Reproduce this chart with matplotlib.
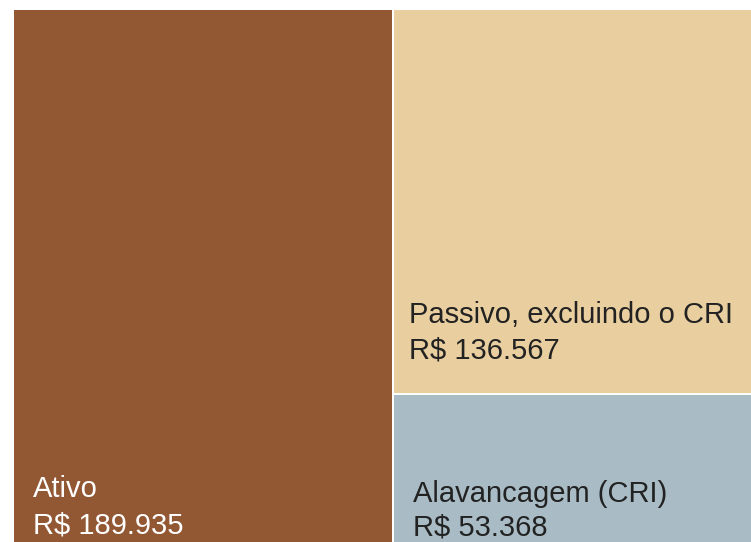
import matplotlib
matplotlib.use("Agg")
import matplotlib.pyplot as plt
from matplotlib.patches import Rectangle
from matplotlib.transforms import offset_copy

plt.rcParams['font.family'] = ['Liberation Sans', 'DejaVu Sans']

# Data
categories = ["Ativo", "Passivo, excluindo o CRI", "Alavancagem (CRI)"]
values = [189.935, 136.567, 53.368]
value_labels = ["R$ 189.935", "R$ 136.567", "R$ 53.368"]

colors = ["#925833", "#E9CFA0", "#A9BCC6"]
text_colors = ["#FFFFFF", "#222222", "#222222"]

W, H, DPI = 751, 542, 100
fig = plt.figure(figsize=(W / DPI, H / DPI), dpi=DPI)
fig.patch.set_facecolor("white")

total = values[0]
# axes placement in pixels (top-down coordinates)
px_left, px_top = 12.8, 8.8
sx = (392.5 - px_left) / total
sy = (394.5 - px_top) / values[1]
ax_w = 2 * total * sx
ax_h = total * sy
ax = fig.add_axes([px_left / W, (H - px_top - ax_h) / H, ax_w / W, ax_h / H])
ax.set_xlim(0, 2 * total)
ax.set_ylim(total, 0)
ax.axis("off")

# rectangles: (x0, y0, w, h) in data units
rects = [
    (0, 0, values[0], total),
    (values[0], 0, total, values[1]),
    (values[0], values[1], total, values[2]),
]
for (x0, y0, w, h), c in zip(rects, colors):
    ax.add_patch(Rectangle((x0, y0), w, h, facecolor=c, edgecolor="white",
                           linewidth=1.44, clip_on=False))

# text offsets (dots) from each rectangle's bottom-left corner
offsets = [
    (20.2, 47.9, 11.9),
    (16.0, 71.2, 36.2),
    (20.5, 43.2, 9.9),
]
fs = 21
for (x0, y0, w, h), name, lab, tc, (dx, dy1, dy2) in zip(rects, categories, value_labels, text_colors, offsets):
    yb = y0 + h
    ax.text(x0, yb, name, color=tc, fontsize=fs, va="baseline", ha="left",
            transform=offset_copy(ax.transData, fig=fig, x=dx, y=dy1, units="dots"))
    ax.text(x0, yb, lab, color=tc, fontsize=fs, va="baseline", ha="left",
            transform=offset_copy(ax.transData, fig=fig, x=dx, y=dy2, units="dots"))

fig.savefig("out.png", dpi=DPI)
